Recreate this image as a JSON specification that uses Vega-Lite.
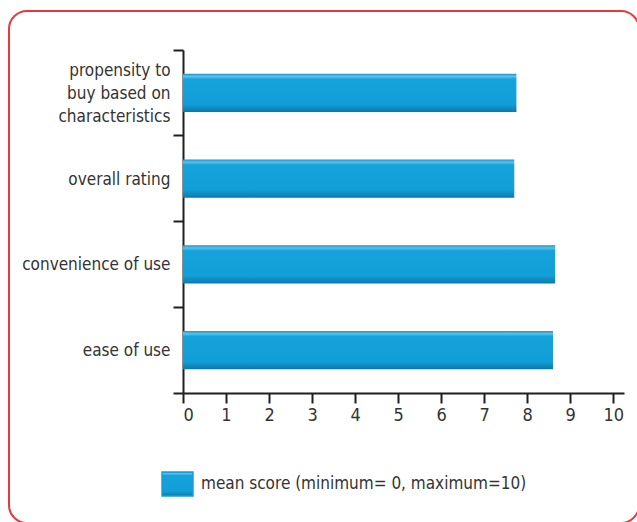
{
  "$schema": "https://vega.github.io/schema/vega-lite/v6.json",
  "autosize": {"type": "none"},
  "padding": {"left": 9, "top": 11, "right": 0, "bottom": 0},
  "width": 630,
  "height": 512,
  "background": "white",
  "config": {
    "view": {"stroke": "#e6393d", "strokeWidth": 2, "cornerRadius": 18, "fill": "white"},
    "font": "DejaVu Sans Condensed"
  },
  "data": {
    "values": [
      {"item": "propensity to|buy based on|characteristics", "score": 7.75, "series": "mean score (minimum= 0, maximum=10)"},
      {"item": "overall rating", "score": 7.7, "series": "mean score (minimum= 0, maximum=10)"},
      {"item": "convenience of use", "score": 8.65, "series": "mean score (minimum= 0, maximum=10)"},
      {"item": "ease of use", "score": 8.6, "series": "mean score (minimum= 0, maximum=10)"}
    ]
  },
  "mark": {
    "type": "bar", "height": {"band": 0.445}, "strokeWidth": 0,
    "fill": {"gradient": "linear", "x1": 0, "y1": 0, "x2": 0, "y2": 1, "stops": [
      {"offset": 0, "color": "#1596cc"},
      {"offset": 0.07, "color": "#5cc2ec"},
      {"offset": 0.14, "color": "#16a2da"},
      {"offset": 0.8, "color": "#129ed7"},
      {"offset": 1, "color": "#0b79aa"}
    ]}
  },
  "encoding": {
    "y": {
      "field": "item", "type": "nominal", "sort": null,
      "scale": {"range": [39, 382], "paddingInner": 0, "paddingOuter": 0},
      "axis": {
        "title": null, "offset": -174, "bandPosition": 1, "tickExtra": true,
        "domainColor": "#1f1f1f", "domainWidth": 2, "tickColor": "#1f1f1f", "tickWidth": 2, "tickSize": 10,
        "labelFontSize": 17, "labelColor": "#333333", "labelPadding": 3, "labelLineHeight": 23,
        "labelOffset": -22,
        "labelExpr": "indexof(datum.label, '|') >= 0 ? split(datum.label, '|') : ['', datum.label, '']",
        "labelLimit": 300
      }
    },
    "x": {
      "field": "score", "type": "quantitative",
      "scale": {"domain": [0, 10.25], "range": [174, 615], "nice": false},
      "axis": {
        "title": null, "offset": -130, "values": [0,1,2,3,4,5,6,7,8,9,10], "grid": false,
        "domainColor": "#1f1f1f", "domainWidth": 2, "tickColor": "#1f1f1f", "tickWidth": 2, "tickSize": 10,
        "labelFontSize": 18, "labelColor": "#333333", "labelPadding": 3
      }
    },
    "stroke": {
      "field": "series", "type": "nominal",
      "scale": {"range": ["#139fd8"]},
      "legend": {
        "title": null, "orient": "none", "legendX": 155.5, "legendY": 460, "padding": 0,
        "symbolType": "M-1.29,-1H1.29V1H-1.29Z", "symbolSize": 576,
        "labelFontSize": 17, "labelColor": "#333333", "labelOffset": 10.5, "labelLimit": 400
      }
    }
  }
}
